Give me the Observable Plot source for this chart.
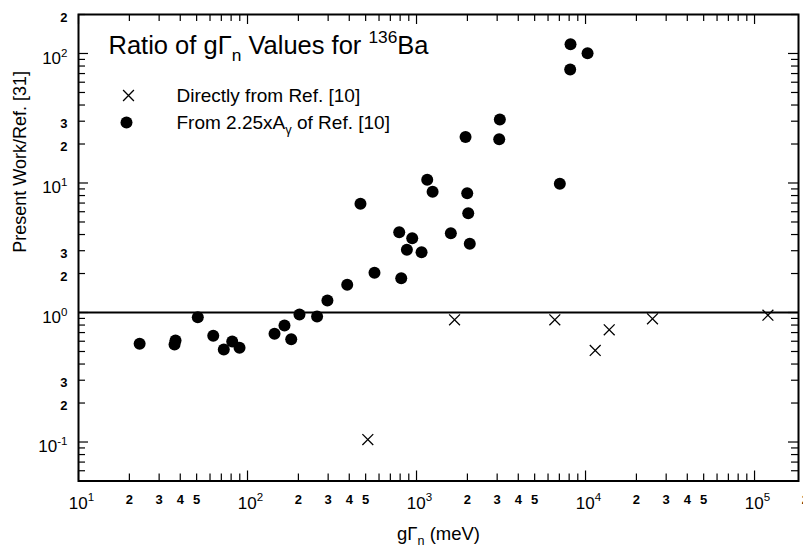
<!DOCTYPE html>
<html><head><meta charset="utf-8">
<script src="https://cdn.jsdelivr.net/npm/d3@7"></script>
<script src="https://cdn.jsdelivr.net/npm/@observablehq/plot@0.6"></script>
<style>body{margin:0;background:#fff} #chart svg{display:block}</style>
</head><body><div id="chart"></div>
<script>
// ---- data ----
const dotX = [23, 37.5, 37, 50.8, 62.7, 72.4, 81.2, 89.7, 144.5, 165.5, 181.4, 203, 258, 297, 389, 564, 466, 812, 790, 943, 877, 1071, 1157, 1245, 1596, 1995, 2023, 2066, 1950, 3111, 3085, 7046, 8150, 8113, 10280];
const dotY = [0.573, 0.608, 0.566, 0.92, 0.661, 0.518, 0.597, 0.534, 0.685, 0.794, 0.622, 0.965, 0.931, 1.238, 1.636, 2.026, 6.91, 1.84, 4.17, 3.75, 3.05, 2.92, 10.59, 8.55, 4.1, 8.34, 5.85, 3.39, 22.7, 30.9, 21.8, 9.86, 118, 75.2, 100.5];
const crossX = [515, 1679, 6580, 11410, 13810, 24900, 120000];
const crossY = [0.1045, 0.878, 0.878, 0.509, 0.735, 0.894, 0.953];
const referenceRatio = [1];

const xMajorLabels = [10, 100, 1000, 10000, 100000];
const xMinorLabels = [20, 30, 40, 50, 200, 300, 400, 500, 2000, 3000, 4000, 5000, 20000, 30000, 40000, 50000, 200000];
const yMajorLabels = [0.1, 1, 10, 100];
const yMinorLabels = [0.2, 0.3, 2, 3, 20, 30, 200];

const titleText = "Ratio of gΓ_{n} Values for ^{136}Ba";
const legendLabels = ["Directly from Ref. [10]", "From 2.25xA_{γ} of Ref. [10]"];
const xTitle = "gΓ_{n} (meV)";
const yTitle = "Present Work/Ref. [31]";

// ---- layout ----
const W = 803, H = 550, mL = 78, mR = 5, mT = 14, mB = 69.5;
const pw = W - mL - mR, ph = H - mT - mB;
const xDomain = [10, 182000], yDomain = [0.05, 200];
const isDecade = v => Math.abs(Math.log10(v) - Math.round(Math.log10(v))) < 1e-9;
const xTicksAll = d3.scaleLog().domain(xDomain).ticks();
const yTicksAll = d3.scaleLog().domain(yDomain).ticks();
const xMaj = xTicksAll.filter(isDecade), xMin = xTicksAll.filter(v => !isDecade(v));
const yMaj = yTicksAll.filter(isDecade), yMin = yTicksAll.filter(v => !isDecade(v));

const dots = dotX.map((x, i) => ({x, y: dotY[i]}));
const crosses = crossX.map((x, i) => ({x, y: crossY[i]}));
const pow = v => "10^{" + Math.round(Math.log10(v)) + "}";
const minorFmt = v => String(Math.round(v / Math.pow(10, Math.floor(Math.log10(v) + 1e-9))));

const majLen = 10, minLen = 7, tw = 1.2;
const font = "'Liberation Sans', Arial, Helvetica, sans-serif";

const svg = Plot.plot({
  width: W, height: H,
  marginLeft: mL, marginRight: mR, marginTop: mT, marginBottom: mB,
  style: {fontFamily: font, background: "#fff", color: "#000"},
  x: {type: "log", domain: xDomain},
  y: {type: "log", domain: yDomain},
  marks: [
    Plot.ruleY(referenceRatio, {y: d => d, stroke: "#000", strokeWidth: 2}),
    // inward ticks on all four sides
    Plot.ruleX(xMin, {x: d => d, insetTop: ph - minLen, strokeWidth: tw}),
    Plot.ruleX(xMaj, {x: d => d, insetTop: ph - majLen, strokeWidth: tw}),
    Plot.ruleX(xMin, {x: d => d, insetBottom: ph - minLen, strokeWidth: tw}),
    Plot.ruleX(xMaj, {x: d => d, insetBottom: ph - majLen, strokeWidth: tw}),
    Plot.ruleY(yMin, {y: d => d, insetRight: pw - minLen, strokeWidth: tw}),
    Plot.ruleY(yMaj, {y: d => d, insetRight: pw - majLen, strokeWidth: tw}),
    Plot.ruleY(yMin, {y: d => d, insetLeft: pw - minLen, strokeWidth: tw}),
    Plot.ruleY(yMaj, {y: d => d, insetLeft: pw - majLen, strokeWidth: tw}),
    Plot.frame({stroke: "#000", strokeWidth: 2}),
    // tick labels
    Plot.axisX(xMajorLabels, {anchor: "bottom", tickSize: 0, tickPadding: 15.5, text: pow, fontSize: 17, dx: 3, label: null}),
    Plot.axisX(xMinorLabels, {anchor: "bottom", tickSize: 0, tickPadding: 14, text: minorFmt, fontSize: 13, fontWeight: "bold", label: null}),
    Plot.axisY(yMajorLabels, {anchor: "left", tickSize: 0, tickPadding: 11, text: pow, fontSize: 17, dy: 5, label: null}),
    Plot.axisY(yMinorLabels, {anchor: "left", tickSize: 0, tickPadding: 11, text: minorFmt, fontSize: 13, fontWeight: "bold", dy: 3, label: null}),
    // axis titles
    Plot.text([xTitle], {text: d => d, frameAnchor: "bottom", dy: 53, fontSize: 18.5, lineAnchor: "middle"}),
    Plot.text([yTitle], {text: d => d, frameAnchor: "left", dx: -58, dy: 5, rotate: -90, fontSize: 18, lineAnchor: "middle"}),
    // data
    Plot.dot(crosses, {x: "x", y: "y", symbol: "times", r: 5, stroke: "#000", strokeWidth: 1.3}),
    Plot.dot(dots, {x: "x", y: "y", r: 6, fill: "#000", stroke: null}),
    // in-plot title and legend
    Plot.text([titleText], {text: d => d, frameAnchor: "top-left", textAnchor: "start", lineAnchor: "top", dx: 30, dy: 21, fontSize: 25.5}),
    Plot.dot([legendLabels[0]], {x: null, y: null, frameAnchor: "top-left", dx: 50, dy: 81, symbol: "times", r: 5, stroke: "#000", strokeWidth: 1.3}),
    Plot.dot([legendLabels[1]], {x: null, y: null, frameAnchor: "top-left", dx: 48, dy: 108, r: 6, fill: "#000", stroke: null}),
    Plot.text([legendLabels[0]], {text: d => d, frameAnchor: "top-left", textAnchor: "start", lineAnchor: "middle", dx: 98, dy: 81, fontSize: 19}),
    Plot.text([legendLabels[1]], {text: d => d, frameAnchor: "top-left", textAnchor: "start", lineAnchor: "middle", dx: 98, dy: 108, fontSize: 19}),
  ]
});
document.getElementById("chart").appendChild(svg);

// rich text: ^{...} superscript, _{...} subscript
function richText(el) {
  const s = el.textContent;
  if (!/[\^_]\{/.test(s)) return;
  const fs = parseFloat(getComputedStyle(el).fontSize) || 12;
  el.textContent = "";
  const re = /([\^_])\{([^}]*)\}/g;
  let last = 0, m, shift = 0;
  const add = (txt, kind) => {
    const t = document.createElementNS("http://www.w3.org/2000/svg", "tspan");
    t.textContent = txt;
    const target = kind === "^" ? -0.42 * fs : kind === "_" ? 0.3 * fs : 0;
    const dy = target - shift;
    if (dy) t.setAttribute("dy", dy);
    shift = target;
    if (kind) t.setAttribute("font-size", 0.68 * fs);
    el.appendChild(t);
  };
  while ((m = re.exec(s))) {
    if (m.index > last) add(s.slice(last, m.index), null);
    add(m[2], m[1]);
    last = re.lastIndex;
  }
  if (last < s.length) add(s.slice(last), null);
}
svg.querySelectorAll("text").forEach(richText);
</script>
</body></html>
